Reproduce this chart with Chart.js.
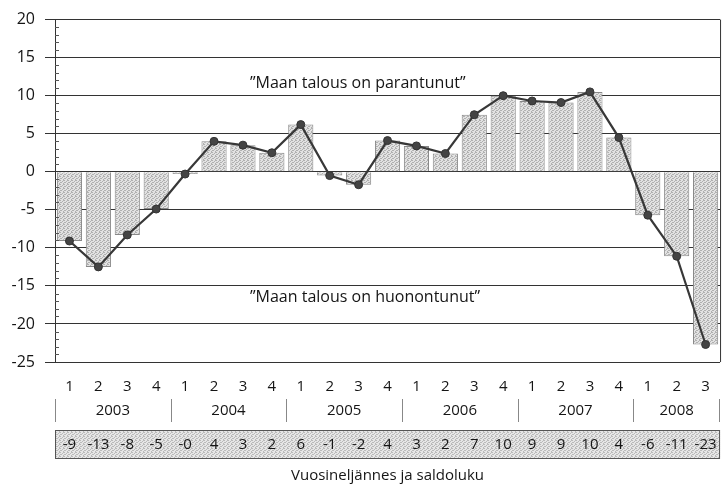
<!DOCTYPE html>
<html>
<head>
<meta charset="utf-8">
<script src="https://cdn.jsdelivr.net/npm/chart.js@4/dist/chart.umd.min.js"></script>
<style>
  body { margin: 0; background: #fff; }
  #wrap { width: 726px; height: 491px; }
</style>
</head>
<body>
<div id="wrap"><canvas id="myChart" width="726" height="491"></canvas></div>
<script>
// vuosineljännekset 2003/1 - 2008/3
var quarters = ['1', '2', '3', '4', '1', '2', '3', '4', '1', '2', '3', '4',
                '1', '2', '3', '4', '1', '2', '3', '4', '1', '2', '3'];
var years = ['2003', '2004', '2005', '2006', '2007', '2008'];
var yearStart = [0, 4, 8, 12, 16, 20];
// saldoluku (luettu kuvasta)
var saldo = [-9.1, -12.5, -8.3, -4.9, -0.3, 4.0, 3.5, 2.5, 6.2, -0.5, -1.7, 4.1,
             3.4, 2.4, 7.5, 10.0, 9.3, 9.1, 10.5, 4.5, -5.7, -11.1, -22.7];
// taulukkorivin pyöristetyt luvut
var saldoText = ['-9', '-13', '-8', '-5', '-0', '4', '3', '2', '6', '-1', '-2', '4',
                 '3', '2', '7', '10', '9', '9', '10', '4', '-6', '-11', '-23'];
var yTicks = [20, 15, 10, 5, 0, -5, -10, -15, -20, -25];

var FONT = '"Open Sans", "Noto Sans", sans-serif';
var TXT = '#151515';

// pisteytetty harmaa täyttö (ei vinoviivoja)
function dotPattern(bg, dot) {
    var c = document.createElement('canvas');
    c.width = 4; c.height = 4;
    var g = c.getContext('2d');
    g.fillStyle = bg;
    g.fillRect(0, 0, 4, 4);
    g.fillStyle = dot;
    var pts = [[0, 0], [2, 1], [1, 2], [3, 3], [3, 0], [0, 2]];
    pts.forEach(function(p) { g.fillRect(p[0], p[1], 1, 1); });
    return g.createPattern(c, 'repeat');
}

var ctx = document.getElementById('myChart').getContext('2d');
var barFill = dotPattern('#e2e2e2', '#b0b0b0');
var tableFill = dotPattern('#e6e6e6', '#bababa');

var extras = {
    id: 'extras',
    afterDraw: function(chart) {
        var c = chart.ctx;
        var a = chart.chartArea;
        var x = chart.scales.x;
        var y = chart.scales.y;
        var step = x.getPixelForValue(1) - x.getPixelForValue(0);
        c.save();

        // oikea reuna
        c.strokeStyle = '#333';
        c.lineWidth = 1;
        c.beginPath();
        c.moveTo(a.right + 0.5, a.top);
        c.lineTo(a.right + 0.5, a.bottom);
        c.stroke();

        // pienet apuviivat y-akselilla
        c.strokeStyle = '#555';
        c.beginPath();
        for (var v = -25; v <= 20; v++) {
            if (v % 5 === 0) continue;
            var py = Math.round(y.getPixelForValue(v)) + 0.5;
            c.moveTo(a.left, py);
            c.lineTo(a.left + 4, py);
        }
        c.stroke();

        // tekstit kuvaajan sisällä
        c.fillStyle = TXT;
        c.font = '16px ' + FONT;
        c.textAlign = 'left';
        c.textBaseline = 'middle';
        c.fillText('\u201dMaan talous on parantunut\u201d', a.left + 195, y.getPixelForValue(11.6));
        c.fillText('\u201dMaan talous on huonontunut\u201d', a.left + 195, y.getPixelForValue(-16.5));

        // vuodet ja erotinviivat
        var yearY = 411;
        c.strokeStyle = '#888';
        c.lineWidth = 1;
        c.font = '15px ' + FONT;
        c.textAlign = 'center';
        for (var i = 0; i < years.length; i++) {
            var s = yearStart[i];
            var e = (i + 1 < years.length) ? yearStart[i + 1] : quarters.length;
            var x0 = x.getPixelForValue(s) - step / 2;
            var x1 = x.getPixelForValue(e - 1) + step / 2;
            c.beginPath();
            c.moveTo(Math.round(x0) + 0.5, yearY - 12);
            c.lineTo(Math.round(x0) + 0.5, yearY + 11);
            c.stroke();
            if (i === years.length - 1) {
                c.beginPath();
                c.moveTo(Math.round(x1) - 0.5, yearY - 12);
                c.lineTo(Math.round(x1) - 0.5, yearY + 11);
                c.stroke();
            }
            c.fillText(years[i], (x0 + x1) / 2, yearY);
        }

        // taulukkorivi
        var tTop = 430, tH = 28;
        c.fillStyle = tableFill;
        c.fillRect(a.left, tTop, a.right - a.left, tH);
        c.strokeStyle = '#555';
        c.strokeRect(a.left + 0.5, tTop + 0.5, a.right - a.left - 1, tH);
        c.fillStyle = TXT;
        c.font = '15px ' + FONT;
        for (var j = 0; j < saldoText.length; j++) {
            c.fillText(saldoText[j], x.getPixelForValue(j), tTop + tH / 2 + 1);
        }

        // akselin otsikko
        c.fillText('Vuosineljännes ja saldoluku', (a.left + a.right) / 2, 476);
        c.restore();
    }
};

new Chart(ctx, {
    data: {
        labels: quarters,
        datasets: [{
            type: 'line',
            data: saldo,
            borderColor: '#383838',
            borderWidth: 2.2,
            pointRadius: 4,
            pointBackgroundColor: '#444',
            pointBorderColor: '#333',
            pointBorderWidth: 1,
            tension: 0,
            order: 0
        }, {
            type: 'bar',
            data: saldo,
            backgroundColor: barFill,
            borderColor: '#888',
            borderWidth: 1,
            categoryPercentage: 1.0,
            barPercentage: 0.87,
            order: 1
        }]
    },
    options: {
        responsive: false,
        animation: false,
        layout: { padding: { top: 16, right: 2, bottom: 0, left: 0 } },
        plugins: {
            legend: { display: false },
            tooltip: { enabled: false }
        },
        scales: {
            x: {
                type: 'category',
                grid: { display: false, drawTicks: false },
                border: { display: false },
                ticks: {
                    color: TXT,
                    font: { family: FONT, size: 15 },
                    autoSkip: false,
                    maxRotation: 0,
                    padding: 16
                },
                afterFit: function(scale) { scale.height = 129; }
            },
            y: {
                min: -25,
                max: 20,
                afterBuildTicks: function(scale) {
                    scale.ticks = yTicks.map(function(v) { return { value: v }; });
                },
                grid: { color: '#333', lineWidth: 1, tickLength: 10 },
                border: { display: true, color: '#333' },
                ticks: {
                    color: TXT,
                    font: { family: FONT, size: 16 },
                    padding: 10
                },
                afterFit: function(scale) { scale.width = 55; }
            }
        }
    },
    plugins: [extras]
});
</script>
</body>
</html>
